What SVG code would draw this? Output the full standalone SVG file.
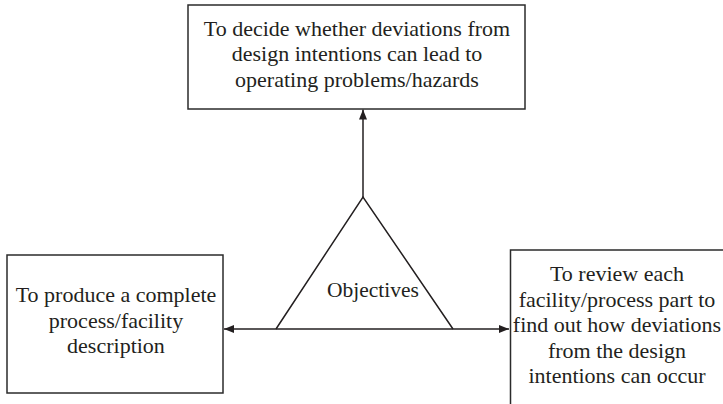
<svg xmlns="http://www.w3.org/2000/svg" width="723" height="404" viewBox="0 0 723 404">
  <style>
    .box { fill: #ffffff; stroke: #2b2b2b; stroke-width: 1.5; }
    .line { fill: none; stroke: #231f20; stroke-width: 1.5; }
    .label { font-family: "Liberation Serif", "Times New Roman", serif; font-size: 22px; fill: #231f20; text-anchor: middle; }
  </style>
  <defs>
    <marker id="arrow" viewBox="0 0 10 8" refX="10" refY="4" markerWidth="10" markerHeight="8" markerUnits="userSpaceOnUse" orient="auto-start-reverse">
      <path d="M0,0 L10,4 L0,8 Z" fill="#231f20"/>
    </marker>
  </defs>
  <rect width="723" height="404" fill="#ffffff"/>

  <!-- connectors -->
  <g id="connectors">
    <line class="line" x1="363" y1="197" x2="363" y2="109.5" marker-end="url(#arrow)"/>
    <line class="line" x1="224" y1="329" x2="509" y2="329" marker-start="url(#arrow)" marker-end="url(#arrow)"/>
  </g>

  <!-- central triangle -->
  <g id="objectives">
    <polyline class="line" points="276,329 363,197 453,329"/>
    <text class="label" x="373" y="297" style="font-size:21.5px">Objectives</text>
  </g>

  <g id="node-decide">
    <rect class="box" x="188" y="5" width="337" height="104"/>
    <text class="label" x="357" y="35.5">To decide whether deviations from</text>
    <text class="label" x="357" y="61">design intentions can lead to</text>
    <text class="label" x="357" y="86.5">operating problems/hazards</text>
  </g>

  <g id="node-produce">
    <rect class="box" x="7" y="255" width="216" height="138"/>
    <text class="label" x="116" y="302">To produce a complete</text>
    <text class="label" x="116" y="327.5">process/facility</text>
    <text class="label" x="116" y="353">description</text>
  </g>

  <g id="node-review">
    <rect class="box" x="510.5" y="250" width="230" height="170"/>
    <text class="label" x="617" y="281">To review each</text>
    <text class="label" x="617" y="306.5">facility/process part to</text>
    <text class="label" x="617" y="332">find out how deviations</text>
    <text class="label" x="617" y="357.5">from the design</text>
    <text class="label" x="617" y="383">intentions can occur</text>
  </g>
</svg>
